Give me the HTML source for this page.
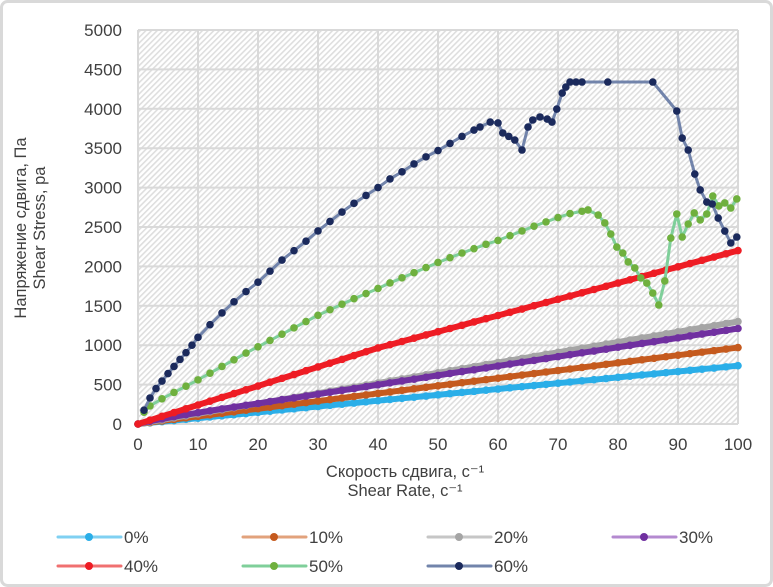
<!DOCTYPE html>
<html><head><meta charset="utf-8"><style>
body{margin:0;background:#fff;}
svg{display:block;font-family:"Liberation Sans","Noto Sans CJK SC",sans-serif;}
</style></head><body>
<svg id="chart" width="773" height="587" viewBox="0 0 773 587">
<defs>
<pattern id="hatch" width="4" height="4" patternUnits="userSpaceOnUse" patternTransform="rotate(45)">
<rect width="4" height="4" fill="#fff"/><rect width="1.6" height="4" fill="#dedede"/>
</pattern>
</defs>
<rect x="1.5" y="1.5" width="770" height="584" rx="6" fill="#fff" stroke="#d9d9d9" stroke-width="3"/>
<rect x="138" y="30" width="600" height="394" fill="url(#hatch)"/>
<g id="grid"></g>
<g id="ticks" font-size="17" fill="#404040"></g>
<g id="series"></g>
<text transform="translate(30,228) rotate(-90)" text-anchor="middle" font-size="16.5" fill="#404040"><tspan x="0" dy="-4">Напряжение сдвига, Па</tspan><tspan x="0" dy="19">Shear Stress, pa</tspan></text>
<text x="405" y="477" text-anchor="middle" font-size="16.5" fill="#404040"><tspan x="405">Скорость сдвига, с⁻¹</tspan><tspan x="405" dy="19">Shear Rate, с⁻¹</tspan></text>
<g id="legend" font-size="17" fill="#404040"></g>
</svg>
<script>
const xTicks=[0,10,20,30,40,50,60,70,80,90,100];
const yTicks=[0,500,1000,1500,2000,2500,3000,3500,4000,4500,5000];
const seriesNames=["0%","10%","20%","30%","40%","50%","60%"];
const stepX=[0,2,4,6,8,10,12,14,16,18,20,22,24,26,28,30,32,34,36,38,40,42,44,46,48,50,52,54,56,58,60,62,64,66,68,70,72,74,76,78,80,82,84,86,88,90,92,94,96,98,100];
const s0=[0,15,30,44,59,74,89,104,118,133,148,163,178,192,207,222,237,252,266,281,296,311,326,340,355,370,385,400,414,429,444,459,474,488,503,518,533,548,562,577,592,607,622,636,651,666,681,696,710,725,740];
const s10=[0,19,39,58,78,97,116,136,155,175,194,213,233,252,272,291,310,330,349,369,388,407,427,446,466,485,504,524,543,563,582,601,621,640,660,679,698,718,737,757,776,795,815,834,854,873,892,912,931,951,970];
const s20=[0,26,52,78,104,130,156,182,208,234,260,286,312,338,364,390,416,442,468,494,520,546,572,598,624,650,676,702,728,754,780,806,832,858,884,910,936,962,988,1014,1040,1066,1092,1118,1144,1170,1196,1222,1248,1274,1300];
const s30=[0,35,65,92,118,143,168,192,215,238,260,284,308,331,355,379,403,427,450,474,498,522,546,569,593,617,641,665,688,712,736,760,784,807,831,855,879,903,926,950,974,998,1022,1045,1069,1093,1117,1141,1164,1188,1212];
const s40=[0,48,97,145,193,241,290,338,386,434,482,531,579,627,676,724,772,820,869,917,965,1006,1047,1089,1130,1171,1212,1253,1295,1336,1377,1418,1459,1501,1542,1583,1624,1665,1707,1748,1789,1830,1871,1913,1954,1995,2036,2077,2119,2160,2201];
const s50x=[1,2,4,6,8,10,12,14,16,18,20,22,24,26,28,30,32,34,36,38,40,42,44,46,48,50,52,54,56,58,60,62,64,66,68,70,72,74,75,76.7,77.8,78.8,79.8,80.8,81.7,82.8,83.8,84.8,85.8,86.8,87.8,88.8,89.8,90.7,91.7,92.7,93.7,94.8,95.8,96.8,97.8,98.8,99.8];
const s50=[150,230,320,400,480,560,645,730,815,900,980,1060,1140,1220,1300,1380,1450,1520,1590,1655,1720,1790,1855,1920,1985,2050,2110,2170,2225,2280,2330,2390,2450,2510,2565,2620,2670,2700,2716,2652,2551,2411,2246,2170,2056,1980,1853,1789,1662,1510,1815,2360,2665,2373,2538,2678,2589,2665,2893,2767,2805,2741,2856];
const s60x=[1,2,3,4,5,6,7,8,9,10,12,14,16,18,20,22,24,26,28,30,32,34,36,38,40,42,44,46,48,50,52,54,56,57,58.7,60,60.8,61.8,62.8,64,65,65.8,67,68.2,69,69.8,70.7,71.3,72,73,74,78.3,85.8,89.8,90.7,91.7,92.8,93.7,94.8,95.7,96.7,97.8,98.8,99.8];
const s60=[175,330,450,545,640,730,820,905,1000,1100,1260,1410,1550,1680,1800,1940,2080,2200,2320,2450,2570,2690,2800,2900,3000,3110,3200,3300,3390,3470,3560,3650,3730,3769,3832,3820,3693,3650,3604,3477,3769,3858,3896,3870,3832,3997,4200,4276,4340,4340,4340,4340,4340,3972,3629,3477,3172,2970,2817,2792,2614,2449,2297,2373];
const markerColors=["#2aaee8","#c55a1e","#a5a5a5","#7030a0","#ee1c24","#6fb03e","#1b2a5c"];
const lineColors=["#7fd0f2","#e2a27c","#c6c6c6","#b48ad0","#f07070","#7fcf9a","#7284ab"];
const NS="http://www.w3.org/2000/svg";
function X(v){return 138+v*6;}
function Y(v){return 424-v*394/5000;}
function mk(tag,attrs,parent){const e=document.createElementNS(NS,tag);for(const k in attrs)e.setAttribute(k,attrs[k]);parent.appendChild(e);return e;}
const grid=document.getElementById('grid'),ticks=document.getElementById('ticks');
xTicks.forEach(t=>{
 const l=mk('line',{x1:X(t),x2:X(t),y1:30,y2:424,stroke:'#d9d9d9','stroke-width':2},grid);
 
 
 const tx=mk('text',{x:X(t),y:450,'text-anchor':'middle'},ticks);tx.textContent=t;
 
 
});
yTicks.forEach(t=>{
 const l=mk('line',{x1:138,x2:738,y1:Y(t),y2:Y(t),stroke:'#d9d9d9','stroke-width':2},grid);
 
 
 const tx=mk('text',{x:122,y:Y(t)+6,'text-anchor':'end'},ticks);tx.textContent=t;
 
 
});
const sets=[[stepX,s0],[stepX,s10],[stepX,s20],[stepX,s30],[stepX,s40],[s50x,s50],[s60x,s60]];
const sg=document.getElementById('series');
sets.forEach((d,i)=>{
 const g=mk('g',{},sg);
 
 
 const pts=d[0].map((x,j)=>X(x)+','+Y(d[1][j])).join(' ');
 const dense=i<5;
 mk('polyline',{points:pts,fill:'none',stroke:dense?markerColors[i]:lineColors[i],'stroke-width':dense?6:3,'stroke-linejoin':'round'},g);
 d[0].forEach((x,j)=>{
  const c=mk('circle',{cx:X(x),cy:Y(d[1][j]),r:3.8,fill:markerColors[i]},g);
  
  
 });
});
const lg=document.getElementById('legend');
const legPos=[[58,537],[243,537],[428,537],[613,537],[58,566],[243,566],[428,566]];
seriesNames.forEach((n,i)=>{
 const [lx,ly]=legPos[i];
 const g=mk('g',{},lg);
 
 
 mk('line',{x1:lx,x2:lx+63,y1:ly,y2:ly,stroke:lineColors[i],'stroke-width':3,'stroke-linecap':'round'},g);
 mk('circle',{cx:lx+31,cy:ly,r:4,fill:markerColors[i]},g);
 const t=mk('text',{x:lx+66,y:ly+6},g);t.textContent=n;
});
</script>
</body></html>
